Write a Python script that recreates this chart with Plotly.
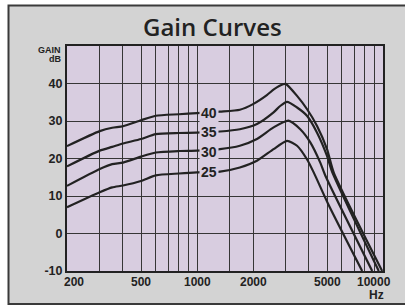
import math
import plotly.graph_objects as go

# ---------------- data ----------------
curve_names = ["40", "35", "30", "25"]

freq_40 = [200, 300, 350, 400, 500, 600, 800, 1000, 1330, 1700, 2000, 2375, 2600, 2900, 3000, 3450, 3900, 4420, 5000, 5430, 9900]
gain_40 = [23.3, 27.3, 28.2, 28.6, 30.2, 31.4, 31.8, 32.1, 32.5, 33.0, 34.5, 36.9, 38.5, 39.8, 39.9, 36.7, 33.2, 28.7, 22.5, 16.3, -10]

freq_35 = [200, 300, 350, 400, 500, 600, 800, 1000, 1330, 1700, 2100, 2580, 2800, 3050, 3450, 3900, 4420, 5000, 5320, 9490]
gain_35 = [17.9, 22.1, 23.1, 24.0, 25.2, 26.5, 26.8, 26.9, 27.2, 27.8, 29.2, 32.3, 34.0, 35.1, 33.6, 31.4, 26.9, 20.7, 16.5, -10]

freq_30 = [200, 300, 350, 400, 500, 600, 800, 1000, 1330, 1700, 2100, 2580, 3100, 3590, 4065, 4600, 4900, 8750]
gain_30 = [12.7, 17.2, 18.5, 18.9, 20.5, 21.6, 22.0, 22.1, 22.5, 23.4, 25.2, 28.3, 30.1, 27.8, 24.3, 18.9, 15.4, -10]

freq_25 = [200, 300, 350, 400, 500, 600, 800, 1000, 1330, 1700, 2100, 2580, 3050, 3450, 3900, 4240, 5080, 7727]
gain_25 = [7.0, 11.0, 12.3, 12.8, 14.0, 15.5, 16.0, 16.3, 16.5, 17.6, 19.4, 22.5, 24.7, 23.4, 19.8, 16.3, 7.8, -10]

label_freq = 1160
label_gain = [32.1, 27.0, 21.8, 16.4]

grid_freqs = [300, 400, 500, 600, 700, 800, 900, 1000, 1500, 2000, 3000, 4000, 5000, 6000, 7000, 8000, 9000]
x_tick_vals = [200, 500, 1000, 2000, 5000, 10000]
x_tick_text = ["200", "500", "1000", "2000", "5000", "10000"]
y_tick_vals = [-10, 0, 10, 20, 30, 40]
y_tick_text = ["-10", "0", "10", "20", "30", "40"]

# ---------------- layout helpers ----------------
W, H = 405, 306
L, R, T, B = 67, 22, 46, 35
PW, PH = W - L - R, H - T - B

def px_x(px):
    return (px - L) / PW

def px_y(py):
    return (H - B - py) / PH

GRAY = "#d3d3d3"
LAV = "#d8cde0"
INK = "#222222"
GRID = "#363636"
EDGE = "#3a3a3a"
BOLD = "Liberation Sans Narrow, Liberation Sans, Arial, sans-serif"
WIDE = "Liberation Sans, Arial, sans-serif"

fig = go.Figure()

series = [(freq_40, gain_40), (freq_35, gain_35), (freq_30, gain_30), (freq_25, gain_25)]
for name, (fx, gy) in zip(curve_names, series):
    fig.add_trace(go.Scatter(x=fx, y=gy, mode="lines", name=name,
                             line=dict(color=INK, width=2.2, shape="spline", smoothing=0.6),
                             hoverinfo="skip", showlegend=False))

annotations = []
# curve labels
for name, g in zip(curve_names, label_gain):
    annotations.append(dict(x=math.log10(label_freq), y=g, xref="x", yref="y", text="<b>" + name + "</b>",
                            showarrow=False, font=dict(family=BOLD, size=14, color=INK),
                            bgcolor=LAV, borderpad=1, xanchor="center", yanchor="middle"))

# x tick labels
shifts = {"200": 7, "10000": -9}
for v, t in zip(x_tick_vals, x_tick_text):
    annotations.append(dict(x=math.log10(v), y=px_y(281.5), xref="x", yref="paper", text="<b>" + t + "</b>",
                            showarrow=False, font=dict(family=BOLD, size=12, color=INK),
                            xanchor="center", yanchor="middle", xshift=shifts.get(t, 0)))
annotations.append(dict(x=math.log10(10000), y=px_y(294.5), xref="x", yref="paper", text="<b>Hz</b>",
                        showarrow=False, font=dict(family=BOLD, size=12, color=INK),
                        xanchor="center", yanchor="middle", xshift=-7))
# y axis title
annotations.append(dict(x=px_x(62.5), y=px_y(50), xref="paper", yref="paper", text="<b>GAIN</b>",
                        showarrow=False, font=dict(family=WIDE, size=9, color=INK),
                        xanchor="right", yanchor="middle"))
annotations.append(dict(x=px_x(62.5), y=px_y(58.7), xref="paper", yref="paper", text="<b>dB</b>",
                        showarrow=False, font=dict(family=WIDE, size=9, color=INK),
                        xanchor="right", yanchor="middle"))
# title
annotations.append(dict(x=px_x(212.5), y=px_y(26), xref="paper", yref="paper", text="Gain Curves",
                        showarrow=False, font=dict(family="Open Sans, Noto Sans, sans-serif", size=24,
                                                   color=INK, weight=600),
                        xanchor="center", yanchor="middle"))

box_l, box_r, box_t, box_b = px_x(8.5), px_x(440), px_y(5.5), px_y(304)
shapes = [
    dict(type="rect", xref="paper", yref="paper", x0=box_l, x1=box_r, y0=box_b, y1=box_t,
         fillcolor=GRAY, line=dict(width=0), layer="below"),
    dict(type="path", xref="paper", yref="paper",
         path=f"M {box_r},{box_t} L {box_l},{box_t} L {box_l},{box_b} L {box_r},{box_b}",
         line=dict(color=EDGE, width=2), layer="below"),
    dict(type="rect", xref="paper", yref="paper", x0=0, x1=1, y0=0, y1=1,
         fillcolor=LAV, line=dict(width=0), layer="below"),
]

fig.update_layout(
    width=W, height=H,
    margin=dict(l=L, r=R, t=T, b=B, pad=0),
    paper_bgcolor="white", plot_bgcolor=LAV,
    annotations=annotations, shapes=shapes,
    xaxis=dict(type="log", range=[math.log10(200), 4], tickvals=grid_freqs, showticklabels=False,
               showgrid=True, gridcolor=GRID, gridwidth=1.4, ticks="",
               showline=True, linecolor=INK, linewidth=2, mirror=True, zeroline=False, fixedrange=True),
    yaxis=dict(range=[-10, 50], tickvals=y_tick_vals, ticktext=["<b>" + t + "</b>" for t in y_tick_text],
               showgrid=True, gridcolor=GRID, gridwidth=1.4, ticks="",
               tickfont=dict(family=BOLD, size=12.5, color=INK),
               showline=True, linecolor=INK, linewidth=2, mirror=True, zeroline=False, fixedrange=True),
)

fig.write_html("out.html", config={"displayModeBar": False},
               post_script="document.body.style.margin='0';document.body.style.overflow='hidden';")
